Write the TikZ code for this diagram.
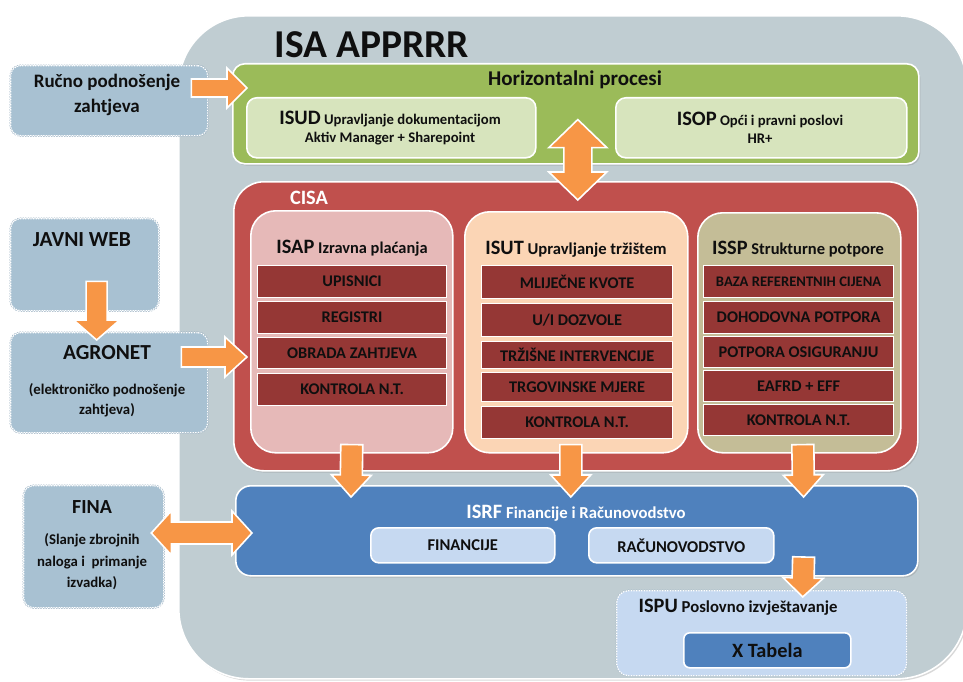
\documentclass[tikz,border=0pt]{standalone}
\usepackage{fontspec}
\setmainfont{Carlito}
\usetikzlibrary{calc,shadows}
\definecolor{outerg}{RGB}{192,205,210}
\definecolor{hgreen}{RGB}{155,187,89}
\definecolor{lgreen}{RGB}{215,228,189}
\definecolor{cred}{RGB}{192,80,77}
\definecolor{cpink}{RGB}{230,185,184}
\definecolor{cpeach}{RGB}{251,213,181}
\definecolor{ctan}{RGB}{196,189,151}
\definecolor{rowred}{RGB}{149,55,53}
\definecolor{cblue}{RGB}{79,129,189}
\definecolor{lblue}{RGB}{198,217,241}
\definecolor{extbl}{RGB}{168,193,210}
\definecolor{extln}{RGB}{140,165,185}
\definecolor{corange}{RGB}{247,150,70}
\definecolor{txt}{RGB}{15,15,15}
\tikzset{
  base/.style={draw=white, line width=1.6pt, inner sep=0pt, align=center, text=txt},
  shad/.style={drop shadow={shadow xshift=1.5pt, shadow yshift=-1.8pt, opacity=.3}},
  outerbox/.style={base, fill=outerg, rounded corners=70pt, shad},
  greenbox/.style={base, fill=hgreen, rounded corners=12pt, shad},
  lgbox/.style={base, fill=lgreen, rounded corners=10pt},
  redbox/.style={base, fill=cred, rounded corners=30pt, shad},
  subbox/.style={base, rounded corners=25pt},
  rowbox/.style={base, line width=1.2pt, fill=rowred, font=\fontsize{16.3}{18}\selectfont\bfseries},
  bluebox/.style={base, fill=cblue, rounded corners=15pt, shad},
  lbbox/.style={base, fill=lblue, rounded corners=8pt, font=\fontsize{16.5}{18}\selectfont\bfseries},
  extbox/.style={inner sep=0pt, fill=extbl, rounded corners=10pt,
     preaction={draw=extln, line width=2.2pt},
     draw=white, line width=1.3pt, dash pattern=on 1.3pt off 1.3pt},
  ispubox/.style={inner sep=0pt, fill=lblue, rounded corners=12pt,
     preaction={draw=extln!80, line width=2.2pt},
     draw=white, line width=1.3pt, dash pattern=on 1.3pt off 1.3pt},
  lbl/.style={inner sep=0pt, align=center, text=txt, font=\bfseries},
  fatarr/.style={fill=corange, draw=white, line width=1.6pt, line join=miter},
}
\newcommand\rbox[7]{\node[#2, anchor=north west, minimum width={(#5)-(#3)}, minimum height={(#6)-(#4)}] (#1) at (#3,#4) {#7};}
\newcommand\fatarrow[5]{%
  \coordinate (faB) at ($(#2)!#5pt!(#1)$);
  \draw[fatarr] ($(#1)!#3pt!90:(faB)$) -- ($(faB)!#3pt!90:(#2)$) -- ($(faB)!#4pt!90:(#2)$) -- (#2)
     -- ($(faB)!#4pt!-90:(#2)$) -- ($(faB)!#3pt!-90:(#2)$) -- ($(#1)!#3pt!-90:(faB)$) -- cycle;}
\newcommand\dblarrow[5]{%
  \coordinate (faA) at ($(#1)!#5pt!(#2)$);
  \coordinate (faB) at ($(#2)!#5pt!(#1)$);
  \draw[fatarr] (#1) -- ($(faA)!#4pt!90:(#2)$) -- ($(faA)!#3pt!90:(#2)$) -- ($(faB)!#3pt!90:(#2)$)
     -- ($(faB)!#4pt!90:(#2)$) -- (#2) -- ($(faB)!#4pt!-90:(#2)$) -- ($(faB)!#3pt!-90:(#2)$)
     -- ($(faA)!#3pt!-90:(#2)$) -- ($(faA)!#4pt!-90:(#2)$) -- cycle;}
\newcommand\fs[1]{\fontsize{#1}{#1}\selectfont}
\begin{document}
\begin{tikzpicture}[x=1pt,y=-1pt]
\useasboundingbox (0,0) rectangle (963,682);
\fill[white] (0,0) rectangle (963,682);
% outer
\rbox{outer}{outerbox}{178}{15}{966}{678}{}
\node[lbl, font=\fs{39.5}\bfseries] (title) at (372,45) {ISA APPRRR};
% horizontal processes
\rbox{hp}{greenbox}{232}{63}{918}{163}{}
\node[lbl, font=\fs{21}\bfseries] (hpT) at (575,80) {Horizontalni procesi};
\rbox{isud}{lgbox}{246}{97}{535}{157}{}
\node[lbl, font=\fontsize{14.7}{18}\selectfont\bfseries] (isudT) at (390,128) {{\fs{20.5}ISUD} Upravljanje dokumentacijom\\Aktiv Manager + Sharepoint};
\rbox{isop}{lgbox}{615}{97}{906}{157}{}
\node[lbl, font=\fontsize{14.7}{18}\selectfont\bfseries] (isopT) at (760,128) {{\fs{20.5}ISOP} Opći i pravni poslovi\\HR+};
% CISA
\rbox{cisa}{redbox}{233}{181}{917}{470}{}
\node[lbl, text=white, font=\fs{20.4}\bfseries] (cisaT) at (309,198) {CISA};
\rbox{isap}{subbox, fill=cpink}{250}{210}{452}{452}{}
\node[lbl, font=\fs{16.4}\bfseries] (isapT) at (352,248) {{\fs{20.4}ISAP} Izravna plaćanja};
\rbox{isut}{subbox, fill=cpeach}{464}{211}{687}{452}{}
\node[lbl, font=\fs{16.6}\bfseries] (isutT) at (576,249) {{\fs{20.4}ISUT} Upravljanje tržištem};
\rbox{issp}{subbox, fill=ctan}{697}{212}{900}{452}{}
\node[lbl, font=\fs{16.5}\bfseries] (isspT) at (798,249) {{\fs{20.4}ISSP} Strukturne potpore};
% ISAP rows
\rbox{ap1}{rowbox}{257}{265}{446}{297}{UPISNICI}
\rbox{ap2}{rowbox}{257}{301}{446}{333}{REGISTRI}
\rbox{ap3}{rowbox}{257}{337}{446}{368}{OBRADA ZAHTJEVA}
\rbox{ap4}{rowbox}{257}{373}{446}{405}{KONTROLA N.T.}
% ISUT rows
\rbox{ut1}{rowbox}{481}{265}{672}{298}{MLIJEČNE KVOTE}
\rbox{ut2}{rowbox}{481}{303}{672}{336}{U/I DOZVOLE}
\rbox{ut3}{rowbox}{481}{341}{672}{368}{TRŽIŠNE INTERVENCIJE}
\rbox{ut4}{rowbox}{481}{372}{672}{401}{TRGOVINSKE MJERE}
\rbox{ut5}{rowbox}{481}{406}{672}{438}{KONTROLA N.T.}
% ISSP rows
\rbox{sp1}{rowbox, font=\fs{14.6}\bfseries}{703}{265}{893}{297}{BAZA REFERENTNIH CIJENA}
\rbox{sp2}{rowbox}{703}{301}{893}{333}{DOHODOVNA POTPORA}
\rbox{sp3}{rowbox}{703}{336}{893}{367}{POTPORA OSIGURANJU}
\rbox{sp4}{rowbox}{703}{370}{893}{401}{EAFRD + EFF}
\rbox{sp5}{rowbox}{703}{404}{893}{435}{KONTROLA N.T.}
% ISRF
\rbox{isrf}{bluebox}{235}{485}{917}{575}{}
\node[lbl, text=white, font=\fs{16.7}\bfseries] (isrfT) at (576,513) {{\fs{20.4}ISRF} Financije i Računovodstvo};
\rbox{fin}{lbbox}{370}{527}{554}{562}{FINANCIJE}
\rbox{rac}{lbbox}{588}{527}{773}{562}{RAČUNOVODSTVO}
% ISPU
\rbox{ispu}{ispubox}{616}{590}{906}{675}{}
\node[lbl, font=\fs{16.7}\bfseries] (ispuT) at (738,607) {{\fs{20.4}ISPU} Poslovno izvještavanje};
\rbox{xtab}{base, fill=cblue, rounded corners=6pt, font=\fs{20.3}\bfseries}{683}{632}{850}{667}{X Tabela}
% external
\rbox{ruc}{extbox}{10}{65}{207}{135}{}
\node[lbl, font=\fontsize{19}{25}\selectfont\bfseries] (rucT) at (107,95) {Ručno podnošenje\\zahtjeva};
\rbox{jw}{extbox}{10}{218}{158}{310}{}
\node[lbl, font=\fs{21.5}\bfseries] (jwT) at (82,240) {JAVNI WEB};
\rbox{agro}{extbox}{10}{332}{207}{432}{}
\node[lbl, font=\fs{21.4}\bfseries] (agroT) at (107,353) {AGRONET};
\node[lbl, font=\fontsize{14.8}{20}\selectfont\bfseries] (agroS) at (107,400) {(elektroničko podnošenje\\zahtjeva)};
\rbox{fina}{extbox}{23}{485}{163}{607}{}
\node[lbl, font=\fs{20}\bfseries] (finaT) at (92,507) {FINA};
\node[lbl, font=\fontsize{14.8}{21.5}\selectfont\bfseries] (finaS) at (92,562) {(Slanje zbrojnih\\naloga i\ \ primanje\\izvadka)};
% connector end points
\coordinate (a1s) at ($(ruc.north east)+(-17,23)$);
\coordinate (a1e) at ($(hp.north west)+(15,25)$);
\coordinate (a2s) at ($(jw.south)+(12,-30)$);
\coordinate (a2e) at ($(agro.north)+(-12.5,8)$);
\coordinate (a3s) at ($(agro.north east)+(-27,25)$);
\coordinate (a3e) at ($(cisa.north west)+(14,176)$);
\coordinate (a4s) at ($(fina.north east)+(-13,48)$);
\coordinate (a4e) at ($(isrf.north west)+(17,48)$);
\coordinate (a5s) at ($(hp.south)+(2,-45)$);
\coordinate (a5e) at ($(cisa.north)+(2,19)$);
\coordinate (a6s) at ($(isap.south)+(0,-9)$);
\coordinate (a6e) at ($(isrf.north west)+(116,12)$);
\coordinate (a7s) at ($(isut.south)+(-5.5,-9)$);
\coordinate (a7e) at ($(isrf.north)+(-6,12)$);
\coordinate (a8s) at ($(issp.south)+(3.5,-9)$);
\coordinate (a8e) at ($(isrf.north east)+(-115,12)$);
\coordinate (a9s) at ($(isrf.north east)+(-115,72)$);
\coordinate (a9e) at ($(ispu.north)+(41,7)$);
% arrows
\fatarrow{a1s}{a1e}{9}{20}{20}
\fatarrow{a2s}{a2e}{10.5}{23}{20}
\fatarrow{a3s}{a3e}{10}{20}{22}
\dblarrow{a4s}{a4e}{11}{22}{20}
\dblarrow{a5s}{a5e}{14}{29}{28}
\fatarrow{a6s}{a6e}{11}{20}{22}
\fatarrow{a7s}{a7e}{11}{20}{22}
\fatarrow{a8s}{a8e}{11}{20}{22}
\fatarrow{a9s}{a9e}{11}{20}{19}
\end{tikzpicture}
\end{document}
